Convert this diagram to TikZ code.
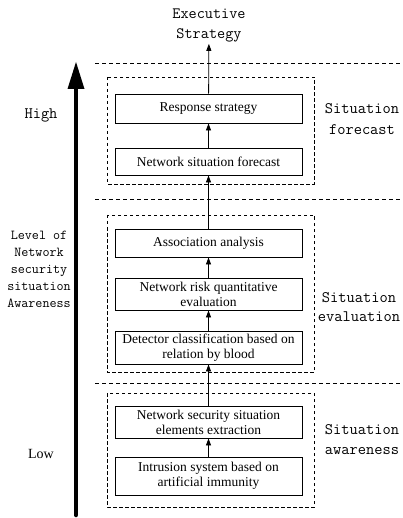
\documentclass[tikz,border=0pt]{standalone}
\usepackage{fontspec}
\setmainfont{Liberation Serif}
\setmonofont{Latin Modern Mono}
\usetikzlibrary{arrows.meta}
\tikzset{
  stagebox/.style={draw, line width=0.9pt, minimum width=187pt, inner sep=1pt, align=center,
    font=\fontsize{13.5}{15}\selectfont},
  groupbox/.style={draw, line width=0.8pt, dash pattern=on 3.5pt off 2.5pt},
  sepline/.style={line width=0.8pt, dash pattern=on 4pt off 3pt},
  flow/.style={line width=0.8pt, -{Triangle[length=7pt,width=5pt]}},
  sidelabel/.style={align=center, font=\ttfamily\fontsize{16}{20}\selectfont, inner sep=0pt},
}
\begin{document}
\begin{tikzpicture}[x=1pt,y=-1pt]
\useasboundingbox (0,0) rectangle (403,518);
\fill[white] (0,0) rectangle (403,518);

% separator lines
\coordinate (s1a) at (95,63);  \coordinate (s1b) at (403,63);
\coordinate (s2a) at (95,199); \coordinate (s2b) at (403,199);
\coordinate (s3a) at (95,383); \coordinate (s3b) at (403,383);
\draw[sepline] (s1a) -- (s1b);
\draw[sepline] (s2a) -- (s2b);
\draw[sepline] (s3a) -- (s3b);

% group boxes
\coordinate (g1a) at (107,77);  \coordinate (g1b) at (314,184);
\coordinate (g2a) at (107,215); \coordinate (g2b) at (314,372);
\coordinate (g3a) at (107,393); \coordinate (g3b) at (314,507);
\draw[groupbox] (g1a) rectangle (g1b);
\draw[groupbox] (g2a) rectangle (g2b);
\draw[groupbox] (g3a) rectangle (g3b);

% stage boxes
\node[stagebox, minimum height=29pt] (rs)  at (208.5,108.5) {Response strategy};
\node[stagebox, minimum height=27pt] (nsf) at (208.5,161.5) {Network situation forecast};
\node[stagebox, minimum height=28pt] (aa)  at (208.5,243) {Association analysis};
\node[stagebox, minimum height=32pt] (nrq) at (208.5,294) {Network risk quantitative\\evaluation};
\node[stagebox, minimum height=33pt] (dc)  at (208.5,347.5) {Detector classification based on\\relation by blood};
\node[stagebox, minimum height=32pt] (nse) at (208.5,422) {Network security situation\\elements extraction};
\node[stagebox, minimum height=38pt] (isa) at (208.5,476) {Intrusion system based on\\artificial immunity};

% top label
\node[sidelabel, font=\ttfamily\fontsize{15.8}{20}\selectfont, inner sep=2pt] (es) at (209,25) {Executive\\Strategy};

% flow arrows
\draw[flow] (isa) -- (nse);
\draw[flow] (nse) -- (dc);
\draw[flow] (dc) -- (nrq);
\draw[flow] (nrq) -- (aa);
\draw[flow] (aa) -- (nsf);
\draw[flow] (nsf) -- (rs);
\draw[flow] (rs) -- (es);

% side labels
\node[sidelabel, font=\ttfamily\fontsize{16}{21}\selectfont] (sf) at (362,119.5) {Situation\\forecast};
\node[sidelabel, font=\ttfamily\fontsize{16}{19}\selectfont] (se) at (359,307.5) {Situation\\evaluation};
\node[sidelabel, font=\ttfamily\fontsize{16}{20}\selectfont] (sa) at (362,440) {Situation\\awareness};

% level axis
\coordinate (ax0) at (76,515);
\coordinate (ax1) at (76,62);
\draw[line width=4.5pt, line cap=round] (ax0) -- (76,86);
\fill (ax1) -- (67.5,89) -- (84.5,89) -- cycle;

\node[font=\ttfamily\fontsize{16}{18}\selectfont, inner sep=0pt] (hi) at (41,115) {High};
\node[font=\fontsize{14}{16}\selectfont, inner sep=0pt] (lo) at (41,454) {Low};
\node[align=center, font=\ttfamily\fontsize{13.7}{17}\selectfont, inner sep=0pt] (lvl) at (39,269)
  {Level of\\Network\\security\\situation\\Awareness};
\end{tikzpicture}
\end{document}
